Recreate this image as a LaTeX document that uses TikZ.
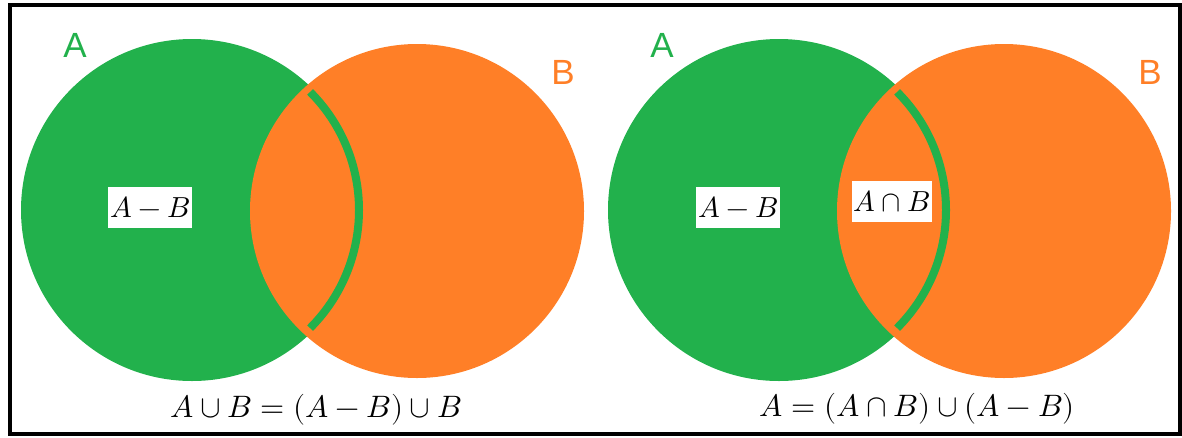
\documentclass[tikz,border=0pt]{standalone}
\usepackage{amsmath}
\usepackage{fontspec}
\usepackage{unicode-math}
\setmainfont{Liberation Sans}
\usepackage{tikz}
\usetikzlibrary{positioning}
\definecolor{pGreen}{HTML}{22B14C}
\definecolor{pOrange}{HTML}{FF7F27}

\begin{document}
\begin{tikzpicture}[x=1pt, y=-1pt,
    setname/.style={font=\fontsize{35}{40}\selectfont},
    tagbox/.style={fill=white, inner xsep=2pt, inner ysep=0pt, minimum height=41pt, font=\fontsize{29}{32}\selectfont},
    formula/.style={font=\fontsize{31}{34}\selectfont}]
    \useasboundingbox (0,0) rectangle (1182,437);
    \draw[line width=4.5pt] (10,5) rectangle (1180,434);
    \foreach \ox [count=\i] in {0,587} {
      \fill[pGreen] (192+\ox,210) circle[radius=171];
      \fill[pOrange] (417+\ox,211) circle[radius=167];
      \draw[pGreen, line width=8pt] ([shift={(-45:167)}]192+\ox,210) arc[start angle=-45, end angle=45, radius=167];
      \node[setname, text=pGreen] (A\i) at (75+\ox,45) {A};
      \node[setname, text=pOrange] (B\i) at (563+\ox,72) {B};
    }
    \node[tagbox] (AmB1) at (150,207) {$A-B$};
    \node[tagbox] (AmB2) at (738,207) {$A-B$};
    \node[tagbox] (AnB2) at (892,201) {$A\cap B$};
    \node[formula] (eq1) at (316,410) {$A\cup B=(A-B)\cup B$};
    \node[formula] (eq2) at (917,409) {$A=(A\cap B)\cup(A-B)$};
  \end{tikzpicture}
\end{document}
